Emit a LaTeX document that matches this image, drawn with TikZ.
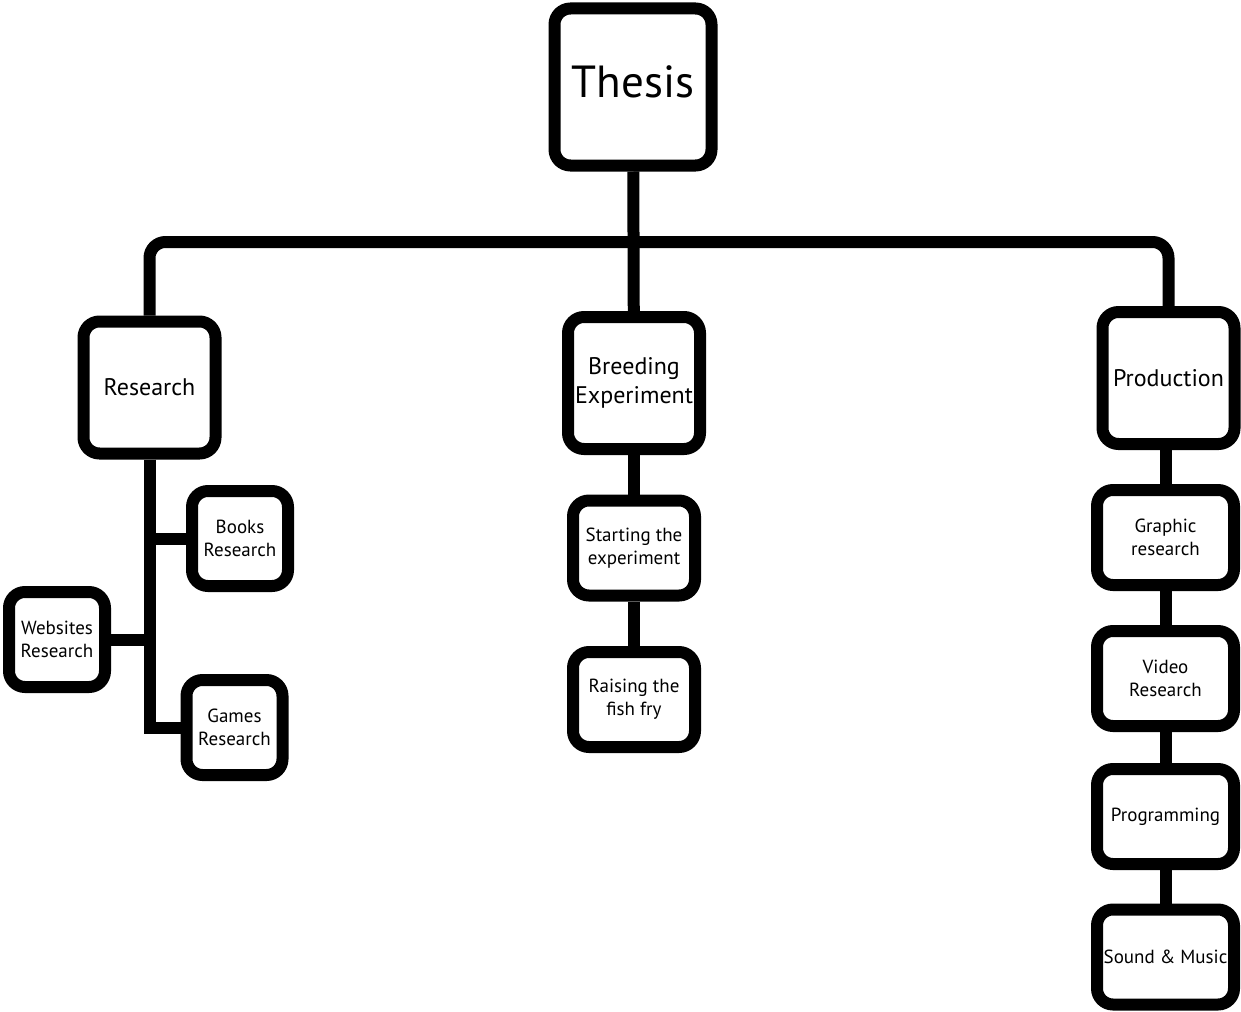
\documentclass[tikz,border=0pt]{standalone}
\usepackage{fontspec}
\setmainfont{PT Sans}
\usetikzlibrary{positioning}

\tikzset{
    box/.style={draw=black, fill=white, line width=6pt, rounded corners=8pt,
        align=center, inner sep=0pt},
    topBox/.style={box, minimum width=78.5pt, minimum height=78.5pt,
        font=\fontsize{22.5}{27}\selectfont},
    mainBox/.style={box, minimum width=66pt, minimum height=66pt,
        font=\fontsize{12}{14.5}\selectfont},
    subBox/.style={box, minimum width=48pt, minimum height=47.5pt,
        font=\fontsize{9.5}{11.5}\selectfont},
    wideBox/.style={subBox, minimum width=68.5pt},
    link/.style={draw=black, line width=6pt}
}

\begin{document}
\begin{tikzpicture}[x=0.5pt, y=-0.5pt]

    \useasboundingbox (0,0) rectangle (1241,1011);

    % Top of the tree
    \node[topBox] (thesis) at (633,87) {\raisebox{5pt}{Thesis}};

    % Three branches
    \node[mainBox] (research) at (149.5,387.5) {Research};
    \node[mainBox] (breeding) at (634,383) {Breeding\\Experiment};
    \node[mainBox] (production) at (1168.5,378) {Production};

    % Research leaves
    \node[subBox] (books) at (240,538.5) {Books\\Research};
    \node[subBox] (websites) at (57,639.5) {Websites\\Research};
    \node[subBox] (games) at (234.5,727.5) {Games\\Research};

    % Breeding leaves
    \node[wideBox, minimum width=61pt] (starting) at (634,548) {Starting the\\experiment};
    \node[wideBox, minimum width=61pt] (raising) at (634,699.5) {Raising the\\fish fry};

    % Production leaves
    \node[wideBox] (graphic) at (1165.5,537.5) {Graphic\\research};
    \node[wideBox] (video) at (1165.5,678.5) {Video\\Research};
    \node[wideBox] (programming) at (1165.5,816.5) {Programming};
    \node[wideBox] (sound) at (1165.5,957) {Sound \& Music};

    % Bus under the thesis
    \coordinate (busMid) at (634,242);
    \draw[link, rounded corners=8pt] (research.north) |- (busMid) -| (production.north);
    \draw[link] (thesis) -- (breeding);

    % Research links
    \draw[link] (research.south) |- (games.west);
    \draw[link] (books.west) -- (books.west -| research.south);
    \draw[link] (websites.east) -- (websites.east -| research.south);

    % Breeding links
    \draw[link] (breeding) -- (starting);
    \draw[link] (starting) -- (raising);

    % Production links
    \draw[link] (production.south -| graphic.north) -- (graphic.north);
    \draw[link] (graphic) -- (video);
    \draw[link] (video) -- (programming);
    \draw[link] (programming) -- (sound);

\end{tikzpicture}
\end{document}
